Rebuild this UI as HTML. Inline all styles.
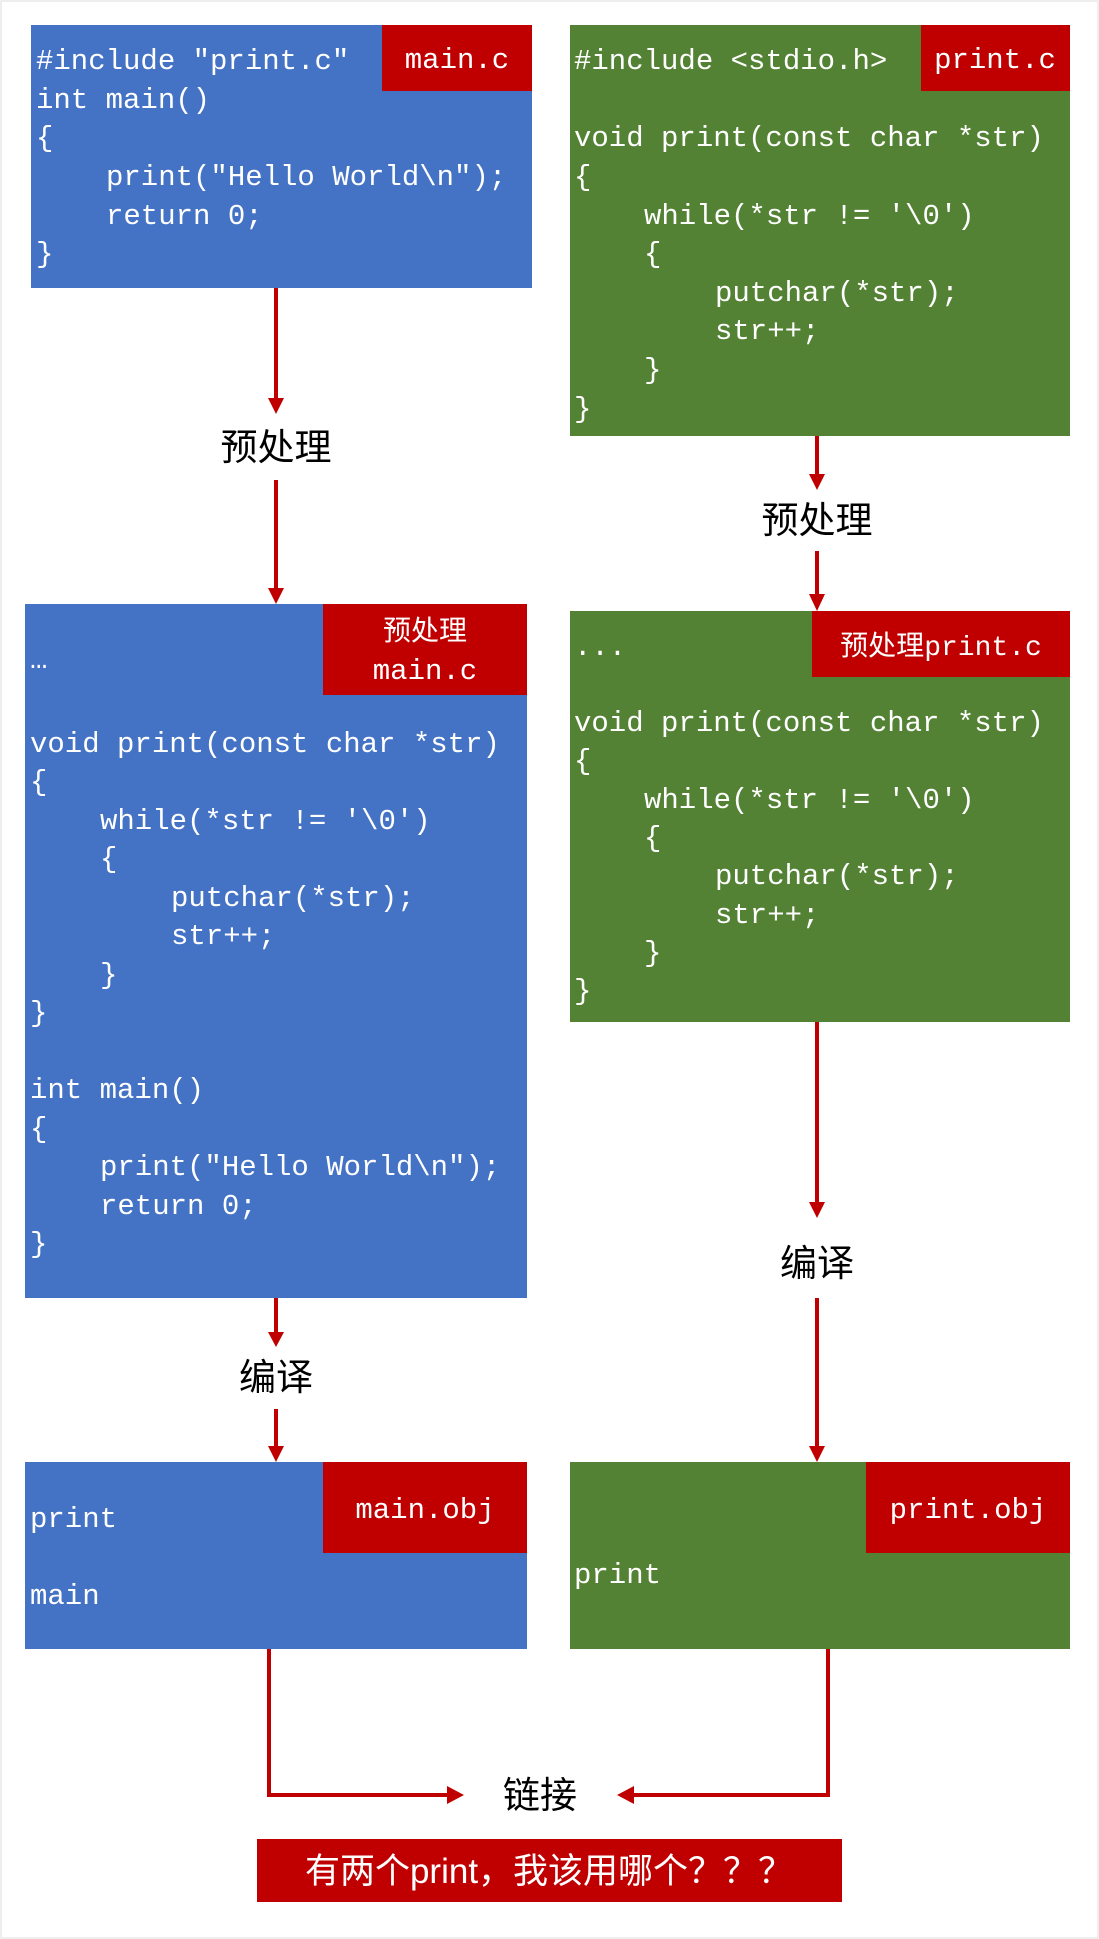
<!DOCTYPE html>
<html><head><meta charset="utf-8"><style>
html,body{margin:0;padding:0;background:#fff}
svg{display:block}
.c{font-family:"Liberation Mono","Noto Sans CJK SC",monospace;font-size:29px;fill:#fff}
.z{font-family:"Liberation Sans","Noto Sans CJK SC",sans-serif;font-size:37px;fill:#000}
.w{font-family:"Liberation Sans","Noto Sans CJK SC",sans-serif;font-size:28px;fill:#fff}
</style></head><body>
<svg width="1099" height="1939" viewBox="0 0 1099 1939" xmlns="http://www.w3.org/2000/svg">
<rect x="1" y="1" width="1097" height="1937" fill="#fff" stroke="#ddd"/>
<g stroke="#C00000" stroke-width="4" fill="none">
<line x1="276" y1="288" x2="276" y2="398"/><line x1="276" y1="480" x2="276" y2="588"/>
<line x1="817" y1="436" x2="817" y2="474"/><line x1="817" y1="551" x2="817" y2="594"/>
<line x1="276" y1="1298" x2="276" y2="1332"/><line x1="276" y1="1409" x2="276" y2="1446"/>
<line x1="817" y1="1022" x2="817" y2="1202"/><line x1="817" y1="1298" x2="817" y2="1446"/>
<polyline points="269,1649 269,1795 447,1795"/><polyline points="828,1649 828,1795 634,1795"/>
</g>
<g fill="#C00000">
<path d="M268,398 L284,398 L276,414 Z"/><path d="M268,588 L284,588 L276,604 Z"/>
<path d="M809,474 L825,474 L817,490 Z"/><path d="M809,594 L825,594 L817,611 Z"/>
<path d="M268,1332 L284,1332 L276,1347 Z"/><path d="M268,1446 L284,1446 L276,1462 Z"/>
<path d="M809,1202 L825,1202 L817,1218 Z"/><path d="M809,1446 L825,1446 L817,1462 Z"/>
<path d="M447,1786 L464,1795 L447,1804 Z"/><path d="M634,1786 L617,1795 L634,1804 Z"/>
</g>
<rect x="31" y="25" width="501" height="263" fill="#4472C4"/>
<rect x="382" y="25" width="150" height="66" fill="#C00000"/>
<text class="c" x="457" y="68" text-anchor="middle">main.c</text>
<g class="c"><text x="36" y="69">#include "print.c"</text><text x="36" y="108">int main()</text><text x="36" y="146">{</text>
<text x="106" y="185">print("Hello World\n");</text><text x="106" y="224">return 0;</text><text x="36" y="262">}</text></g>
<rect x="570" y="25" width="500" height="411" fill="#548235"/>
<rect x="921" y="25" width="149" height="66" fill="#C00000"/>
<text class="c" x="995" y="68" text-anchor="middle">print.c</text>
<g class="c"><text x="574" y="69">#include &lt;stdio.h&gt;</text><text x="574" y="146">void print(const char *str)</text><text x="574" y="185">{</text>
<text x="644" y="224">while(*str != '\0')</text><text x="644" y="262">{</text><text x="715" y="301">putchar(*str);</text><text x="715" y="339">str++;</text><text x="644" y="378">}</text><text x="574" y="417">}</text></g>
<text class="z" x="276" y="460" text-anchor="middle">预处理</text>
<text class="z" x="817" y="533" text-anchor="middle">预处理</text>
<rect x="25" y="604" width="502" height="694" fill="#4472C4"/>
<rect x="323" y="604" width="204" height="91" fill="#C00000"/>
<text class="w" x="425" y="640" text-anchor="middle">预处理</text><text class="c" x="425" y="679" text-anchor="middle">main.c</text>
<g class="c"><text x="30" y="668">…</text><text x="30" y="752">void print(const char *str)</text><text x="30" y="790">{</text>
<text x="100" y="829">while(*str != '\0')</text><text x="100" y="867">{</text><text x="171" y="906">putchar(*str);</text><text x="171" y="944">str++;</text><text x="100" y="983">}</text><text x="30" y="1021">}</text>
<text x="30" y="1098">int main()</text><text x="30" y="1137">{</text><text x="100" y="1175">print("Hello World\n");</text><text x="100" y="1214">return 0;</text><text x="30" y="1252">}</text></g>
<rect x="570" y="611" width="500" height="411" fill="#548235"/>
<rect x="812" y="611" width="258" height="66" fill="#C00000"/>
<text class="w" x="941" y="655" text-anchor="middle">预处理<tspan font-family="Liberation Mono">print.c</tspan></text>
<g class="c"><text x="574" y="655">...</text><text x="574" y="731">void print(const char *str)</text><text x="574" y="769">{</text>
<text x="644" y="808">while(*str != '\0')</text><text x="644" y="846">{</text><text x="715" y="884">putchar(*str);</text><text x="715" y="923">str++;</text><text x="644" y="961">}</text><text x="574" y="999">}</text></g>
<text class="z" x="817" y="1276" text-anchor="middle">编译</text>
<text class="z" x="276" y="1390" text-anchor="middle">编译</text>
<rect x="25" y="1462" width="502" height="187" fill="#4472C4"/>
<rect x="323" y="1462" width="204" height="91" fill="#C00000"/>
<text class="c" x="425" y="1518" text-anchor="middle">main.obj</text>
<text class="c" x="30" y="1527">print</text><text class="c" x="30" y="1604">main</text>
<rect x="570" y="1462" width="500" height="187" fill="#548235"/>
<rect x="866" y="1462" width="204" height="91" fill="#C00000"/>
<text class="c" x="968" y="1518" text-anchor="middle">print.obj</text>
<text class="c" x="574" y="1583">print</text>
<text class="z" x="540" y="1808" text-anchor="middle">链接</text>
<rect x="257" y="1839" width="585" height="63" fill="#C00000"/>
<text x="549" y="1883" text-anchor="middle" style="font-family:'Liberation Sans','Noto Sans CJK SC',sans-serif;font-size:35px;fill:#fff">有两个print，我该用哪个？？？</text>
</svg>
</body></html>
